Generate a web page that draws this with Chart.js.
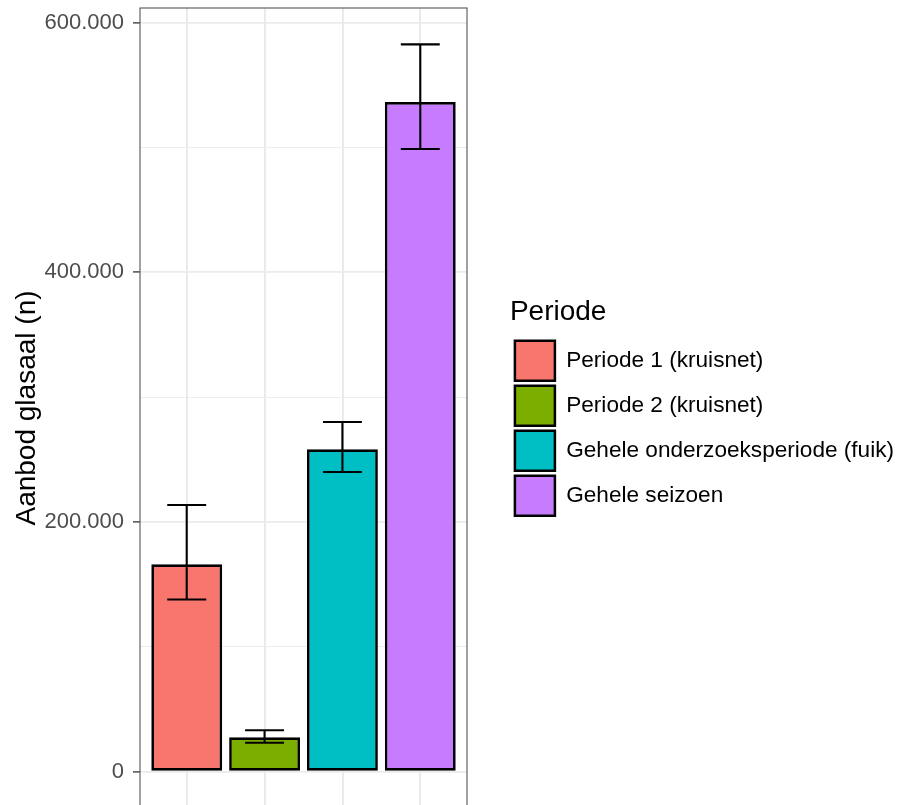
<!DOCTYPE html>
<html>
<head>
<meta charset="utf-8">
<script src="https://cdn.jsdelivr.net/npm/chart.js@4.4.1/dist/chart.umd.min.js"></script>
<style>
  html, body { margin: 0; padding: 0; background: #fff; overflow: hidden; }
  #wrap { width: 904px; height: 805px; overflow: hidden; }
</style>
</head>
<body>
<div id="wrap"><canvas id="myChart" width="904" height="830"></canvas></div>
<script>
// data
let categories = ["Periode 1 (kruisnet)", "Periode 2 (kruisnet)", "Gehele onderzoeksperiode (fuik)", "Gehele seizoen"];
let values = [166100, 27500, 258200, 536400];
let lower = [137900, 23200, 240000, 498800];
let upper = [213600, 33100, 280100, 582600];
let colors = ["#F8766D", "#7CAE00", "#00BFC4", "#C77CFF"];

// y ticks every 100.000, labels only on the major ones
let yTicks = [0, 100000, 200000, 300000, 400000, 500000, 600000];
let yMajor = [0, 200000, 400000, 600000];
let yMin = -29130;
let yMax = 611730;

Chart.defaults.font.family = "'Liberation Sans', Arial, sans-serif";

function dotted(v) {
  return String(v).replace(/\B(?=(\d{3})+(?!\d))/g, ".");
}

function isMajor(c) {
  return c.tick && yMajor.includes(c.tick.value);
}

// error bars, drawn on top of the bars, then the panel border
const errorBars = {
  id: "errorBars",
  afterDatasetsDraw(chart) {
    let ctx = chart.ctx;
    let xs = chart.scales.x;
    let ys = chart.scales.y;
    let hw = 0.25 * (xs.getPixelForValue(2) - xs.getPixelForValue(1));
    ctx.save();
    ctx.strokeStyle = "#000";
    ctx.lineWidth = 2.1;
    for (let i = 0; i < categories.length; i++) {
      let x = xs.getPixelForValue(i + 1);
      let yl = ys.getPixelForValue(lower[i]);
      let yh = ys.getPixelForValue(upper[i]);
      ctx.beginPath();
      ctx.moveTo(x, yl);
      ctx.lineTo(x, yh);
      ctx.moveTo(x - hw, yl);
      ctx.lineTo(x + hw, yl);
      ctx.moveTo(x - hw, yh);
      ctx.lineTo(x + hw, yh);
      ctx.stroke();
    }
    let a = chart.chartArea;
    ctx.strokeStyle = "#555";
    ctx.lineWidth = 1.1;
    ctx.strokeRect(a.left, a.top, a.right - a.left, a.bottom - a.top);
    ctx.restore();
  }
};

let ctx = document.getElementById("myChart").getContext("2d");
let myChart = new Chart(ctx, {
  type: "bar",
  data: {
    datasets: [
      {
        label: "Aanbod",
        data: categories.map((c, i) => ({ x: i + 1, y: values[i] })),
        backgroundColor: colors,
        borderColor: "#000",
        borderWidth: 2.7,
        borderSkipped: false,
        categoryPercentage: 1,
        barPercentage: 0.91,
      },
    ],
  },
  options: {
    responsive: false,
    animation: false,
    events: [],
    layout: { padding: { top: 8, bottom: 22, left: 0, right: 0 } },
    scales: {
      x: {
        type: "linear",
        min: 0.4,
        max: 4.6,
        offset: false,
        ticks: { display: false, stepSize: 1, includeBounds: false },
        grid: { color: "#E8E8E8", lineWidth: 1.8, offset: false, drawTicks: false },
        border: { display: false },
        afterFit: (s) => { s.height = 0; s.paddingLeft = 0; s.paddingRight = 0; },
      },
      y: {
        type: "linear",
        min: yMin,
        max: yMax,
        afterBuildTicks: (s) => { s.ticks = yTicks.map((v) => ({ value: v })); },
        ticks: {
          autoSkip: false,
          padding: 9,
          color: "#4D4D4D",
          font: { size: 22 },
          callback: (v) => (yMajor.includes(v) ? dotted(v) : ""),
        },
        grid: {
          color: "#EBEBEB",
          lineWidth: (c) => (isMajor(c) ? 1.8 : 0.9),
          tickLength: 7,
          tickWidth: 1.3,
          tickColor: (c) => (isMajor(c) ? "#333333" : "rgba(0,0,0,0)"),
        },
        border: { display: false },
        title: {
          display: true,
          text: "Aanbod glasaal (n)",
          color: "#000",
          font: { size: 28 },
          padding: { top: 10, bottom: 0 },
        },
        afterFit: (s) => { s.width = 140; s.paddingTop = 0; s.paddingBottom = 0; },
      },
      gap: {
        type: "linear",
        position: "right",
        display: true,
        ticks: { display: false },
        grid: { display: false, drawTicks: false },
        border: { display: false },
        afterFit: (s) => {
          s.width = Math.max(0, 437 - s.chart.legend.width);
          s.paddingTop = 0;
          s.paddingBottom = 0;
        },
      },
    },
    plugins: {
      tooltip: { enabled: false },
      legend: {
        position: "right",
        align: "center",
        maxWidth: 430,
        onClick: null,
        title: {
          display: true,
          text: "Periode",
          position: "start",
          color: "#000",
          font: { size: 28 },
          padding: { top: 3, bottom: 4 },
        },
        labels: {
          boxWidth: 40,
          boxHeight: 40,
          padding: 5,
          color: "#000",
          font: { size: 22.6 },
          generateLabels: () =>
            categories.map((c, i) => ({
              text: c,
              fillStyle: colors[i],
              strokeStyle: "#000",
              lineWidth: 2.5,
              hidden: false,
              index: i,
            })),
        },
      },
    },
  },
  plugins: [errorBars],
});
</script>
</body>
</html>
